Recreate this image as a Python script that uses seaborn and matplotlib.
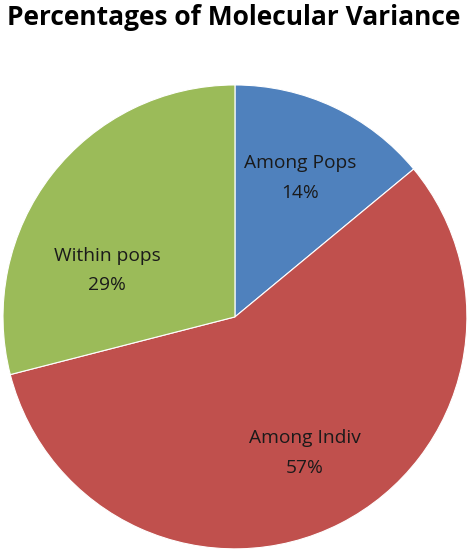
import matplotlib.pyplot as plt
import seaborn as sns
import numpy as np

# data
sources = ['Among Pops', 'Among Indiv', 'Within pops']
percents = [14, 57, 29]
colors = ['#4F81BD', '#C0504D', '#9BBB59']

sns.set_theme(style='white')
plt.rcParams['font.family'] = ['Open Sans', 'DejaVu Sans']

fig = plt.figure(figsize=(4.7, 5.5), dpi=100)
ax = fig.add_axes([0.0064, 0.002, 0.987, 0.8436])

labels = [f'{s}\n{p}%' for s, p in zip(sources, percents)]
wedges, texts = ax.pie(percents, labels=labels, colors=colors, startangle=90,
                       counterclock=False, labeldistance=0.66,
                       wedgeprops={'edgecolor': 'white', 'linewidth': 0.8},
                       textprops={'fontsize': 13.8, 'color': '#1a1a1a',
                                  'ha': 'center', 'va': 'center',
                                  'linespacing': 1.85})
for t in texts:
    t.set_horizontalalignment('center')

# Excel puts the last label a bit lower and further left
texts[2].set_position((-0.55, 0.2))

ax.set_aspect('equal')
ax.set_xlim(-1.0, 1.0)
ax.set_ylim(-1.0, 1.0)

fig.text(0.497, 0.968, 'Percentages of Molecular Variance', ha='center', va='center',
         fontsize=19, fontweight='bold', color='black')

fig.savefig('out.png', dpi=100)
